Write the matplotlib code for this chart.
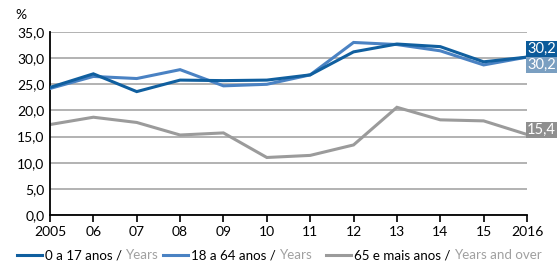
import matplotlib
matplotlib.use("Agg")
import matplotlib.pyplot as plt
from matplotlib.lines import Line2D
from matplotlib.ticker import FuncFormatter

plt.rcParams['font.family'] = ['Lato', 'DejaVu Sans']

# Data
years = ['2005', '06', '07', '08', '09', '10', '11', '12', '13', '14', '15', '2016']
age_0_17 = [24.4, 27.0, 23.6, 25.8, 25.7, 25.8, 26.8, 31.2, 32.7, 32.2, 29.3, 30.2]
age_18_64 = [24.2, 26.5, 26.1, 27.8, 24.7, 25.0, 26.8, 33.0, 32.6, 31.4, 28.7, 30.2]
age_65 = [17.3, 18.7, 17.7, 15.3, 15.7, 11.0, 11.4, 13.4, 20.6, 18.2, 18.0, 15.4]

labels_pt = ['0 a 17 anos / ', '18 a 64 anos / ', '65 e mais anos / ']
labels_en = ['Years', 'Years', 'Years and over']

c_dark = '#105f9f'
c_light = '#4a82c3'
c_grey = '#9b9b9b'
box_colors = ['#0b5a99', '#7a9fc1', '#8f8f8f']

fig = plt.figure(figsize=(5.57, 2.68), dpi=100)
ax = fig.add_axes([50 / 557, 53 / 268, 477 / 557, 183 / 268])

x = list(range(len(years)))
series = [age_0_17, age_18_64, age_65]
colors = [c_dark, c_light, c_grey]
zorders = [4, 3, 2]
for vals, col, z in zip(series, colors, zorders):
    ax.plot(x, vals, color=col, lw=2.2, zorder=z, solid_joinstyle='miter')

ax.set_xlim(0, len(years) - 1)
ax.set_ylim(0, 35)
ax.set_yticks([0, 5, 10, 15, 20, 25, 30, 35])
ax.yaxis.set_major_formatter(FuncFormatter(lambda v, p: f'{v:.1f}'.replace('.', ',')))
ax.set_xticks(x)
ax.set_xticklabels(years)
ax.grid(axis='y', color='#a6a6a6', lw=1.2)
ax.set_axisbelow(True)
for s in ['top', 'right']:
    ax.spines[s].set_visible(False)
ax.spines['left'].set_linewidth(1.3)
ax.spines['bottom'].set_linewidth(1.3)
ax.tick_params(axis='x', direction='out', length=5, width=1.2, labelsize=10, pad=3)
ax.tick_params(axis='y', length=0, labelsize=10, pad=4)
ax.text(-0.05, 1.06, '%', transform=ax.transAxes, ha='right', va='bottom', fontsize=10)

# End labels
offsets = [5.6, -5.6, 3.2]
for vals, bc, off in zip(series, box_colors, offsets):
    ax.annotate(f'{vals[-1]:.1f}'.replace('.', ','), xy=(x[-1], vals[-1]),
                xytext=(0, off), textcoords='offset points', ha='left', va='center',
                fontsize=10.5, color='white', annotation_clip=False, zorder=6,
                bbox=dict(boxstyle='square,pad=0.08', fc=bc, ec='none'))

# Legend with two-coloured texts
leg_x = [17, 163, 326]
leg_y = 1 - 255 / 268
for lx, col, lp, le in zip(leg_x, colors, labels_pt, labels_en):
    fig.add_artist(Line2D([lx / 557, (lx + 25) / 557], [leg_y, leg_y],
                          transform=fig.transFigure, color=col, lw=2.2))
    t = fig.text((lx + 28) / 557, leg_y, lp, ha='left', va='center', fontsize=9.6)
    ax.annotate(le, xy=(1, 0.5), xycoords=t, ha='left', va='center',
                fontsize=9.6, color='#a0a0a0', annotation_clip=False)

fig.savefig('out.png', dpi=100)
